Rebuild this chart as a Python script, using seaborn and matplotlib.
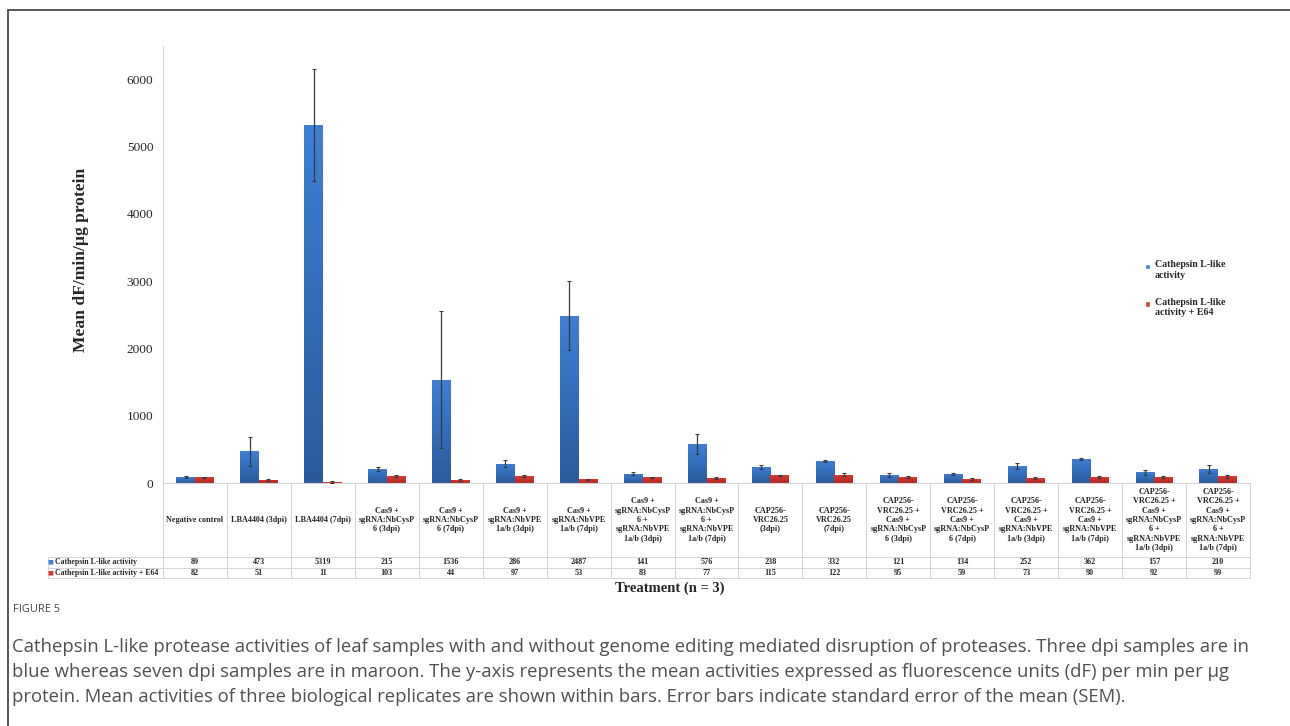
import numpy as np
import pandas as pd
import matplotlib
matplotlib.use("Agg")
import matplotlib.pyplot as plt
import seaborn as sns
from matplotlib.table import Table
from matplotlib.colors import LinearSegmentedColormap
from matplotlib.patches import Patch, Rectangle
from matplotlib.legend_handler import HandlerPatch
from matplotlib.lines import Line2D

# ---- data -------------------------------------------------------------
treatments = [
    "Negative control",
    "LBA4404 (3dpi)",
    "LBA4404 (7dpi)",
    "Cas9 +\nsgRNA:NbCysP\n6 (3dpi)",
    "Cas9 +\nsgRNA:NbCysP\n6 (7dpi)",
    "Cas9 +\nsgRNA:NbVPE\n1a/b (3dpi)",
    "Cas9 +\nsgRNA:NbVPE\n1a/b (7dpi)",
    "Cas9 +\nsgRNA:NbCysP\n6 +\nsgRNA:NbVPE\n1a/b (3dpi)",
    "Cas9 +\nsgRNA:NbCysP\n6 +\nsgRNA:NbVPE\n1a/b (7dpi)",
    "CAP256-\nVRC26.25\n(3dpi)",
    "CAP256-\nVRC26.25\n(7dpi)",
    "CAP256-\nVRC26.25 +\nCas9 +\nsgRNA:NbCysP\n6 (3dpi)",
    "CAP256-\nVRC26.25 +\nCas9 +\nsgRNA:NbCysP\n6 (7dpi)",
    "CAP256-\nVRC26.25 +\nCas9 +\nsgRNA:NbVPE\n1a/b (3dpi)",
    "CAP256-\nVRC26.25 +\nCas9 +\nsgRNA:NbVPE\n1a/b (7dpi)",
    "CAP256-\nVRC26.25 +\nCas9 +\nsgRNA:NbCysP\n6 +\nsgRNA:NbVPE\n1a/b (3dpi)",
    "CAP256-\nVRC26.25 +\nCas9 +\nsgRNA:NbCysP\n6 +\nsgRNA:NbVPE\n1a/b (7dpi)",
]
series_names = ["Cathepsin L-like activity", "Cathepsin L-like activity + E64"]
legend_labels = ["Cathepsin L-like\nactivity", "Cathepsin L-like\nactivity + E64"]

activity = [89, 473, 5319, 215, 1536, 286, 2487, 141, 576, 238, 332, 121, 134, 252, 362, 157, 210]
activity_e64 = [82, 51, 11, 103, 44, 97, 53, 83, 77, 115, 122, 95, 59, 73, 90, 92, 99]
sem_activity = [20, 215, 838, 30, 1020, 55, 515, 25, 150, 25, 15, 25, 20, 50, 15, 40, 60]
sem_e64 = [10, 15, 15, 15, 15, 15, 12, 12, 15, 10, 20, 15, 20, 15, 15, 15, 25]

y_ticks = [0, 1000, 2000, 3000, 4000, 5000, 6000]

# ---- style ------------------------------------------------------------
sns.set_style("white")
plt.rcParams["font.family"] = ["Liberation Serif", "DejaVu Serif"]

blue_top, blue_bottom = "#3e80d6", "#2a5a9c"
red_top, red_bottom = "#d63c33", "#b02a22"
grid_grey = "#d4d4d4"
caption_grey = "#505050"

df = pd.DataFrame({
    "Treatment": treatments * 2,
    "Series": [series_names[0]] * len(treatments) + [series_names[1]] * len(treatments),
    "Mean": activity + activity_e64,
})

W, H = 1290, 726
ax_h_px = 483 - 45.5
fig = plt.figure(figsize=(W / 100, H / 100), dpi=100)
ax = fig.add_axes([163 / W, 1 - 483 / H, (1250 - 163) / W, ax_h_px / H])

sns.barplot(data=df, x="Treatment", y="Mean", hue="Series", order=treatments,
            hue_order=series_names, palette=[blue_top, red_top], width=0.58,
            errorbar=None, legend=False, ax=ax, saturation=1)

# vertical gradient fill on every bar, then SEM whiskers
ramps = [LinearSegmentedColormap.from_list("b", [blue_bottom, blue_top]),
         LinearSegmentedColormap.from_list("r", [red_bottom, red_top])]
errs = [sem_activity, sem_e64]
grad = np.linspace(0, 1, 256).reshape(-1, 1)
for container, cmap, err in zip(ax.containers, ramps, errs):
    xs, ys = [], []
    for bar in container:
        x0, w, h = bar.get_x(), bar.get_width(), bar.get_height()
        im = ax.imshow(grad, cmap=cmap, extent=[x0, x0 + w, 0, h], origin="lower",
                       aspect="auto", zorder=bar.get_zorder() + 0.1)
        im.set_clip_path(bar)
        xs.append(x0 + w / 2)
        ys.append(h)
    ax.errorbar(xs, ys, yerr=err, fmt="none", ecolor="#3a3a3a", elinewidth=0.9,
                capsize=1.2, capthick=0.8, zorder=5)

ax.set_xlim(-0.5, len(treatments) - 0.5)
ax.set_ylim(0, 6500)
ax.set_yticks(y_ticks)
ax.set_yticklabels([str(t) for t in y_ticks], fontsize=9.6)
ax.tick_params(axis="y", length=3, width=0.8, color=grid_grey, pad=4)
ax.tick_params(axis="x", length=0, labelbottom=False)
for s in ["top", "right"]:
    ax.spines[s].set_visible(False)
for s in ["left", "bottom"]:
    ax.spines[s].set_color(grid_grey)
    ax.spines[s].set_linewidth(0.8)

ax.set_ylabel("Mean dF/min/µg protein", fontsize=12.6, fontweight="bold")
ax.yaxis.set_label_coords(-0.068, 0.51)
ax.set_xlabel("Treatment (n = 3)", fontsize=10.5, fontweight="bold")
ax.xaxis.set_label_coords(0.466, -0.225)

# ---- data table under the axis (sizes in axes fractions) ---------------
cell_font = dict(fontsize=5.85, fontweight="bold", family=["Liberation Serif"])
n = len(treatments)
col_w = 1 / n
lab_w = 1.8 / n
hdr_h = 74 / ax_h_px
row_h = 10.5 / ax_h_px
tbl_h = hdr_h + 2 * row_h
tbl = Table(ax, bbox=[0, -tbl_h, 1, tbl_h])
blank = tbl.add_cell(0, -1, lab_w, hdr_h, text="")
blank.visible_edges = "open"
for j, name in enumerate(treatments):
    c = tbl.add_cell(0, j, col_w, hdr_h, text=name, loc="center", edgecolor=grid_grey)
    c.get_text().set(**cell_font, linespacing=1.22)
row_cells = []
for i, (label, vals) in enumerate(zip(series_names, [activity, activity_e64]), start=1):
    rc = tbl.add_cell(i, -1, lab_w, row_h, text=label, loc="left", edgecolor=grid_grey)
    rc.PAD = 0.065
    rc.get_text().set(**{**cell_font, "fontsize": 5.55})
    row_cells.append(rc)
    for j, v in enumerate(vals):
        c = tbl.add_cell(i, j, col_w, row_h, text=str(v), loc="center", edgecolor=grid_grey)
        c.get_text().set(**cell_font)
for cell in tbl.get_celld().values():
    cell.set_linewidth(0.7)
tbl.auto_set_font_size(False)
ax.add_table(tbl)
for rc, col in zip(row_cells, [blue_top, red_top]):
    ax.annotate("■", xy=(0, 0.5), xycoords=rc.get_text(), xytext=(-1.2, 0),
                textcoords="offset points", ha="right", va="center",
                color=col, fontsize=4.5, family="DejaVu Sans", annotation_clip=False)


# ---- legend: small key square level with the first line of each label ---
def top_square(legend, orig_handle, xdescent, ydescent, width, height, fontsize):
    s = 0.55 * fontsize
    return Rectangle((-xdescent, -ydescent + height - s * 1.15), s, s)


handles = [Patch(facecolor=blue_top), Patch(facecolor=red_top)]
ax.legend(handles, legend_labels, loc="upper left", bbox_to_anchor=(0.8985, 0.52),
          frameon=False, borderpad=0, handlelength=0.6, handleheight=2.0,
          handletextpad=0.45, labelspacing=1.85,
          handler_map={Patch: HandlerPatch(patch_func=top_square)},
          prop=dict(family="Liberation Serif", weight="bold", size=7.1))

# ---- frame and caption -----------------------------------------------------
fig.add_artist(Line2D([8 / W, 1], [1 - 10 / H, 1 - 10 / H], color="#4a4a4a", lw=1.3))
fig.add_artist(Line2D([8 / W, 8 / W], [0, 1 - 10 / H], color="#4a4a4a", lw=1.3))

cap_font = ["Open Sans", "DejaVu Sans"]
fig.text(13 / W, 1 - 610 / H, "FIGURE 5", fontsize=7.9, color="#444444",
         family=cap_font, va="center")
caption = [
    "Cathepsin L-like protease activities of leaf samples with and without genome editing mediated disruption of proteases. Three dpi samples are in",
    "blue whereas seven dpi samples are in maroon. The y-axis represents the mean activities expressed as fluorescence units (dF) per min per μg",
    "protein. Mean activities of three biological replicates are shown within bars. Error bars indicate standard error of the mean (SEM).",
]
for k, line in enumerate(caption):
    fig.text(12 / W, 1 - (647 + 25 * k) / H, line, fontsize=13.3, color=caption_grey,
             family=cap_font, va="center")

fig.savefig("out.png", dpi=100, facecolor="white")
